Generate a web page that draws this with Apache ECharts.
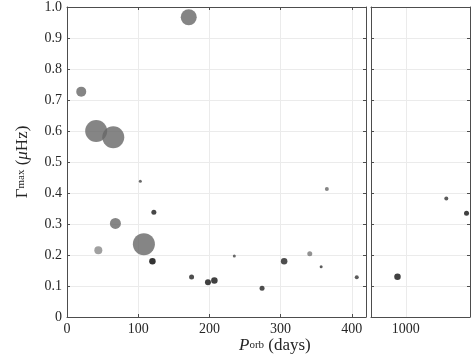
<!DOCTYPE html>
<html>
<head>
<meta charset="utf-8">
<style>
  html, body { margin: 0; padding: 0; background: #fff; }
  #main { width: 474px; height: 356px; }
</style>
<script src="https://cdn.jsdelivr.net/npm/echarts@6/dist/echarts.min.js"></script>
</head>
<body>
<div id="main"></div>
<script>
// orbital period (days), Gamma_max (muHz), marker diameter, grey level
var periodLeft = [171, 20, 41, 65, 103, 122, 68, 44, 108, 120, 175, 198, 207, 235, 305, 341, 274, 357, 365, 407];
var gammaLeft  = [0.967, 0.727, 0.600, 0.580, 0.438, 0.338, 0.302, 0.215, 0.235, 0.180, 0.129, 0.112, 0.118, 0.197, 0.180, 0.204, 0.093, 0.162, 0.413, 0.128];
var sizeLeft   = [16, 10, 22, 22, 3, 5, 11, 8, 22, 6.5, 5, 6, 6.5, 3, 6.5, 5, 5, 3, 4, 4];
var shadeLeft  = [102, 102, 102, 102, 68, 26, 102, 136, 102, 0, 34, 17, 17, 68, 34, 119, 34, 51, 102, 51];

var periodRight = [988, 1058, 1087];
var gammaRight  = [0.130, 0.382, 0.335];
var sizeRight   = [6.5, 4, 5];
var shadeRight  = [17, 51, 17];

var rightTicks = [1000];

var FONT = 'Liberation Serif';
var axisCol = '#4d4d4d';
var gridCol = '#ebebeb';
var textCol = '#262626';

function buildData(xs, ys, sz, sh) {
    return xs.map(function (x, i) {
        var g = sh[i];
        return {
            value: [x, ys[i], sz[i]],
            itemStyle: {color: 'rgb(' + g + ',' + g + ',' + g + ')'}
        };
    });
}

// left panel x axes
function xAxisLeft(pos, main) {
    return {
        type: 'value', gridIndex: 0, position: pos, min: 0, max: 420, interval: 100,
        axisLine: {show: true, onZero: false, lineStyle: {color: axisCol, width: 1}},
        axisTick: {show: true, inside: true, length: 3, lineStyle: {color: axisCol}},
        axisLabel: {
            show: main, color: textCol, fontFamily: FONT, fontSize: 14, margin: 5, showMaxLabel: false,
            formatter: function (v) { return String(v); }
        },
        splitLine: {show: main, lineStyle: {color: gridCol, width: 1}}
    };
}

// right (broken) panel x axes: only 1000 is labelled
function xAxisRight(pos, main) {
    return {
        type: 'value', gridIndex: 1, position: pos, min: 950, max: 1092, interval: 50,
        axisLine: {show: true, onZero: false, lineStyle: {color: axisCol, width: 1}},
        axisTick: {show: false},
        axisLabel: {
            show: main, color: textCol, fontFamily: FONT, fontSize: 14, margin: 5,
            showMinLabel: false, showMaxLabel: false,
            formatter: function (v) { return rightTicks.indexOf(v) >= 0 ? String(v) : ''; }
        },
        splitLine: {show: false}
    };
}

function yAxisCfg(grid, pos, main, label) {
    return {
        type: 'value', gridIndex: grid, position: pos, min: 0, max: 1, interval: 0.1,
        axisLine: {show: true, onZero: false, lineStyle: {color: axisCol, width: 1}},
        axisTick: {show: true, inside: true, length: 3, lineStyle: {color: axisCol}},
        axisLabel: {
            show: label, color: textCol, fontFamily: FONT, fontSize: 14, margin: 5,
            formatter: function (v) { return v === 0 ? '0' : v.toFixed(1); }
        },
        splitLine: {show: main, lineStyle: {color: gridCol, width: 1}}
    };
}

var subRich = {
    g: {fontFamily: FONT, fontSize: 17, color: textCol, fill: textCol, lineHeight: 20, verticalAlign: 'top'},
    i: {fontFamily: FONT, fontSize: 17, fontStyle: 'italic', color: textCol, fill: textCol, lineHeight: 20, verticalAlign: 'top'},
    s: {fontFamily: FONT, fontSize: 11, color: textCol, fill: textCol, lineHeight: 11, verticalAlign: 'bottom', height: 24}
};

var yLeft = yAxisCfg(0, 'left', true, true);
yLeft.name = '{g|Γ}{s|max}{g| (}{i|μ}{g|Hz)}';
yLeft.nameLocation = 'middle';
yLeft.nameRotate = 90;
yLeft.nameGap = 31;
yLeft.nameTextStyle = {fontFamily: FONT, rich: subRich};

var chart = echarts.init(document.getElementById('main'));
chart.setOption({
    backgroundColor: '#fff',
    animation: false,
    grid: [
        {left: 67, top: 7, width: 299, height: 310},
        {left: 371, top: 7, width: 99, height: 310}
    ],
    xAxis: [
        xAxisLeft('bottom', true),
        xAxisLeft('top', false),
        xAxisRight('bottom', true),
        xAxisRight('top', false)
    ],
    yAxis: [
        yLeft,
        yAxisCfg(0, 'right', false, false),
        yAxisCfg(1, 'left', true, false),
        yAxisCfg(1, 'right', false, false)
    ],
    graphic: [{
        type: 'text',
        left: 239,
        top: 333,
        style: {text: '{i|P}{s|orb}{g| (days)}', rich: subRich}
    }],
    series: [
        {
            type: 'scatter', xAxisIndex: 0, yAxisIndex: 0,
            symbolSize: function (v) { return v[2]; },
            data: buildData(periodLeft, gammaLeft, sizeLeft, shadeLeft)
        },
        {
            type: 'scatter', xAxisIndex: 2, yAxisIndex: 2,
            symbolSize: function (v) { return v[2]; },
            data: buildData(periodRight, gammaRight, sizeRight, shadeRight),
            markLine: {
                silent: true, symbol: 'none', label: {show: false}, z: 0,
                lineStyle: {color: gridCol, width: 1, type: 'solid'},
                data: rightTicks.map(function (t) { return {xAxis: t}; })
            }
        }
    ]
});
</script>
</body>
</html>
